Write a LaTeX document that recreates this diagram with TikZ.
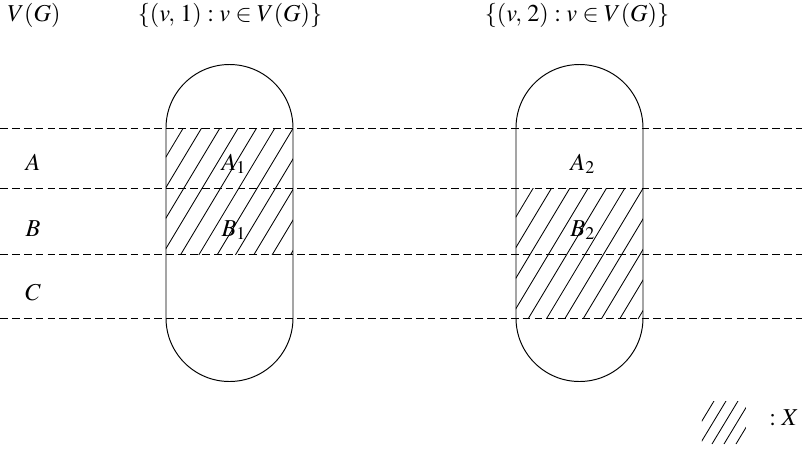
\documentclass[tikz,border=0pt]{standalone}
\usepackage{mathptmx}

\begin{document}
\begin{tikzpicture}[x=0.0145cm, y=-0.0145cm, line width=0.4pt,
  level/.style={dash pattern=on 3.2pt off 1.7pt},
  hatch/.style={line width=0.35pt}]

  % Fix the page to the frame
  \useasboundingbox (0,0) rectangle (802,450);

  % Column titles
  \node[anchor=base, inner sep=0pt] (vg) at (34,21) {$V(G)$};
  \node[anchor=base, inner sep=0pt] (copyone) at (230,21) {$\{(v,\,1) : v \in V(G)\}$};
  \node[anchor=base, inner sep=0pt] (copytwo) at (577,21) {$\{(v,\,2) : v \in V(G)\}$};

  % Hatching of A_1 and B_1 (first copy)
  \begin{scope}
    \clip (166,128) rectangle (293,254);
    \foreach \i in {-1,...,12}
      \draw[hatch] (189.3+18.33*\i,118) -- ++(-96,160);
  \end{scope}

  % Hatching of B_2 and C_2 (second copy)
  \begin{scope}
    \clip (516,188) rectangle (643,318);
    \foreach \i in {-1,...,12}
      \draw[hatch] (539.3+18.33*\i,178) -- ++(-96,160);
  \end{scope}

  % The two copies of V(G)
  \draw (166,128) -- (166,318) arc[start angle=180, end angle=0, radius=63.5]
        -- (293,128) arc[start angle=0, end angle=-180, radius=63.5] -- cycle;
  \draw (516,128) -- (516,318) arc[start angle=180, end angle=0, radius=63.5]
        -- (643,128) arc[start angle=0, end angle=-180, radius=63.5] -- cycle;

  % Dashed borders between A, B and C
  \foreach \y in {128,188,254,318}
    \draw[level] (0,\y) -- (802,\y);

  % Row names
  \node[anchor=base] (rowa) at (33,170) {$A$};
  \node[anchor=base] (rowb) at (33,236) {$B$};
  \node[anchor=base] (rowc) at (33,300) {$C$};

  % Parts in each copy
  \node[anchor=base] (aone) at (234,170) {$A_1$};
  \node[anchor=base] (bone) at (234,236) {$B_1$};
  \node[anchor=base] (atwo) at (583,170) {$A_2$};
  \node[anchor=base] (btwo) at (583,236) {$B_2$};

  % Legend
  \begin{scope}
    \clip (702,401) rectangle (746,444);
    \foreach \i in {0,...,4}
      \draw[hatch] (714+12*\i,401) -- ++(-26,43);
  \end{scope}
  \node[anchor=base] (legend) at (784,425) {$:X$};

\end{tikzpicture}
\end{document}
